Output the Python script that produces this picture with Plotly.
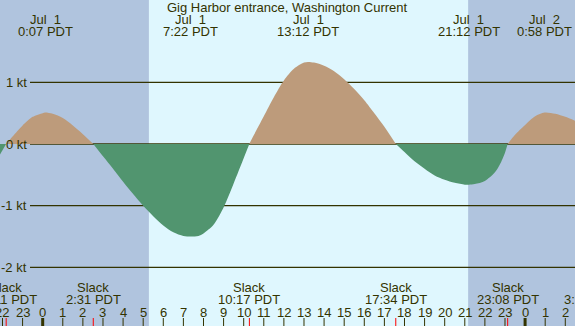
import plotly.graph_objects as go

# ---------------- data ----------------
title = "Gig Harbor entrance, Washington Current"

# current speed (kt), hours relative to Jul 1 00:00 PDT
hours = [-2.14, -1.82, -1.5, -1.0, -0.5, 0.0, 0.12, 0.5, 1.0, 1.5, 2.0, 2.52,
         3.0, 3.5, 4.0, 4.5, 5.0, 5.5, 6.0, 6.5, 7.0, 7.37, 7.75, 8.0, 8.5, 9.0,
         9.5, 10.0, 10.28, 10.5, 11.0, 11.5, 12.0, 12.5, 13.0, 13.2, 13.5, 14.0,
         14.5, 15.0, 15.5, 16.0, 16.5, 17.0, 17.57, 18.0, 18.5, 19.0, 19.5, 20.0,
         20.5, 21.0, 21.2, 21.5, 22.0, 22.5, 22.75, 23.0, 23.13, 23.5, 24.0, 24.5,
         24.97, 25.5, 26.0, 26.49]
speed = [-0.18, 0.0, 0.12, 0.30, 0.44, 0.50, 0.51, 0.49, 0.42, 0.30, 0.16, 0.0,
         -0.20, -0.40, -0.61, -0.81, -1.00, -1.17, -1.32, -1.43, -1.49, -1.50, -1.49, -1.45, -1.31, -1.03,
         -0.64, -0.23, 0.0, 0.14, 0.45, 0.76, 1.03, 1.22, 1.32, 1.33, 1.32, 1.27,
         1.18, 1.05, 0.89, 0.71, 0.50, 0.28, 0.0, -0.13, -0.28, -0.40, -0.51, -0.58,
         -0.63, -0.66, -0.66, -0.65, -0.60, -0.46, -0.33, -0.14, 0.0, 0.15, 0.31, 0.45,
         0.51, 0.49, 0.44, 0.375]

max_times = ["0:07", "7:22", "13:12", "21:12", "0:58"]
max_dates = ["Jul\u00a0\u00a01", "Jul\u00a0\u00a01", "Jul\u00a0\u00a01", "Jul\u00a0\u00a01", "Jul\u00a0\u00a02"]
max_days = [0, 0, 0, 0, 1]

slack_times = ["22:11", "2:31", "10:17", "17:34", "23:08", "3:19"]
slack_days = [-1, 0, 0, 0, 0, 1]

sunrise = "5:17"
sunset = "21:10"

hour_ticks = list(range(-2, 27))
hour_labels = [str(h % 24) for h in hour_ticks]

ytick_vals = [1, 0, -1, -2]
ytick_text = ["1 kt", "0 kt", "-1 kt", "-2 kt"]

# ---------------- styles ----------------
NIGHT = "#B0C4DE"
DAY = "#DFF7FE"
FLOOD = "#BD9B7B"
EBB = "#51956F"
INK = "#333300"
FONT = dict(family="Liberation Sans, Arial, sans-serif", size=13, color=INK)
W, H = 575, 326
XR = [-2.124, 26.483]
YR = [-2.951, 2.335]


def to_h(t, d=0):
    hh, mm = t.split(":")
    return d * 24 + int(hh) + int(mm) / 60.0


def py(px):  # paper y from pixel row
    return 1 - px / H


fig = go.Figure()

# split the series into lobes at slack (zero) points
segs, cur = [], []
for h, v in zip(hours, speed):
    cur.append((h, v))
    if v == 0 and len(cur) > 1:
        segs.append(cur)
        cur = [(h, v)]
if len(cur) > 1:
    segs.append(cur)

for seg in segs:
    xs = [p[0] for p in seg]
    ys = [p[1] for p in seg]
    pos = sum(ys) > 0
    col = FLOOD if pos else EBB
    fig.add_trace(go.Scatter(
        x=xs, y=ys, mode="lines", line=dict(width=0, color=col, shape="spline", smoothing=0.8),
        fill="tozeroy", fillcolor=col, hoverinfo="skip", showlegend=False))

shapes = []
# daylight band
shapes.append(dict(type="rect", xref="x", yref="paper", x0=to_h(sunrise), x1=to_h(sunset),
                   y0=0, y1=1, fillcolor=DAY, line=dict(width=0), layer="below"))
# kt grid lines
for v in ytick_vals:
    shapes.append(dict(type="line", xref="paper", yref="y", x0=30 / W, x1=1, y0=v, y1=v,
                       line=dict(color=INK, width=1.3), layer="below"))
# hour ticks
for h in hour_ticks:
    thick = (h % 24 == 0)
    shapes.append(dict(type="line", xref="x", yref="paper", x0=h, x1=h, y0=0, y1=8 / H,
                       line=dict(color=INK, width=3 if thick else 1), layer="above"))
# slack ticks
for t, d in zip(slack_times, slack_days):
    h = to_h(t, d)
    shapes.append(dict(type="line", xref="x", yref="paper", x0=h, x1=h, y0=0, y1=8 / H,
                       line=dict(color="#FF0000", width=1), layer="above"))

ann = []
ann.append(dict(text=title, xref="paper", yref="paper", x=0.5, y=py(7.5),
                showarrow=False, font=FONT, xanchor="center", yanchor="middle"))


def xpos(h):
    if XR[0] <= h <= XR[1]:
        return "x", h
    return "paper", (h - XR[0]) / (XR[1] - XR[0])


for t, dl, d in zip(max_times, max_dates, max_days):
    xr, xv = xpos(to_h(t, d))
    ann.append(dict(text=dl, xref=xr, yref="paper", x=xv, y=py(19.5), showarrow=False,
                    font=FONT, xanchor="center", yanchor="middle"))
    ann.append(dict(text=t + " PDT", xref=xr, yref="paper", x=xv, y=py(31.2), showarrow=False,
                    font=FONT, xanchor="center", yanchor="middle"))

for t, d in zip(slack_times, slack_days):
    xr, xv = xpos(to_h(t, d))
    ann.append(dict(text="Slack", xref=xr, yref="paper", x=xv, y=py(287.5), showarrow=False,
                    font=FONT, xanchor="center", yanchor="middle"))
    ann.append(dict(text=t + " PDT", xref=xr, yref="paper", x=xv, y=py(299.2), showarrow=False,
                    font=FONT, xanchor="center", yanchor="middle"))

for h, lab in zip(hour_ticks, hour_labels):
    ann.append(dict(text=lab, xref="x", yref="paper", x=h, y=py(312), showarrow=False,
                    font=FONT, xanchor="center", yanchor="middle"))

for v, lab in zip(ytick_vals, ytick_text):
    ann.append(dict(text=lab, xref="paper", yref="y", x=28.5 / W, y=v, showarrow=False,
                    font=FONT, xanchor="right", yanchor="middle"))

fig.update_layout(
    width=W, height=H, autosize=False,
    margin=dict(l=0, r=0, t=0, b=0, pad=0),
    plot_bgcolor=NIGHT, paper_bgcolor=NIGHT,
    xaxis=dict(range=XR, visible=False, fixedrange=True),
    yaxis=dict(range=YR, visible=False, fixedrange=True),
    shapes=shapes, annotations=ann, showlegend=False,
)

fig.write_html("out.html", config={"displayModeBar": False})

# remove the browser's default page margin so the figure fills the window
with open("out.html", encoding="utf-8") as f:
    html = f.read()
html = html.replace("<head>", "<head><style>html,body{margin:0;padding:0;overflow:hidden;}</style>", 1)
with open("out.html", "w", encoding="utf-8") as f:
    f.write(html)
